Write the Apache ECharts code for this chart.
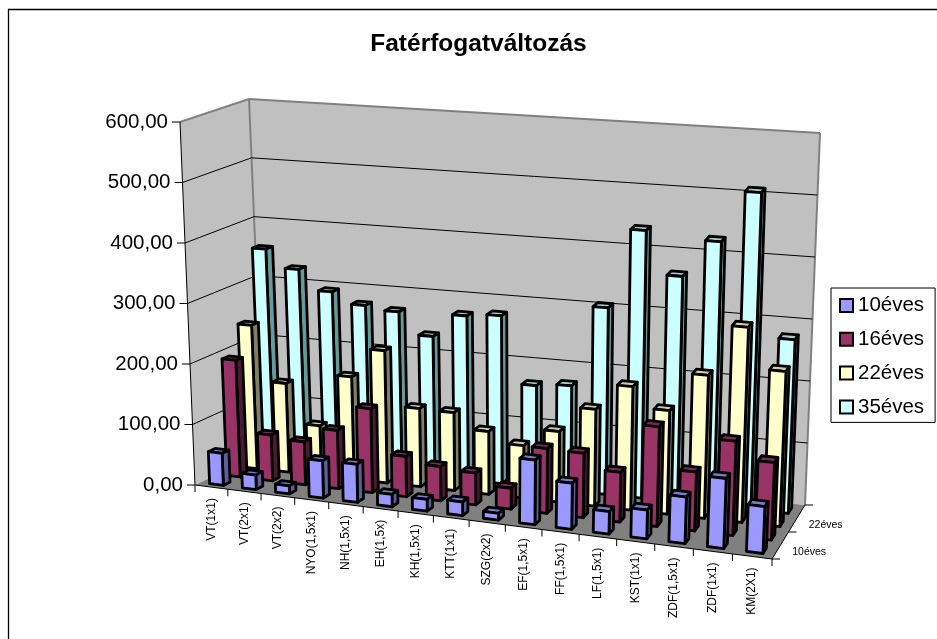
<!DOCTYPE html>
<html><head><meta charset="utf-8">
<style>html,body{margin:0;padding:0;background:#fff}#c{width:937px;height:639px}</style>
<script src="https://cdn.jsdelivr.net/npm/echarts@6/dist/echarts.min.js"></script>
</head><body><div id="c"></div>
<script>
const categories=['VT(1x1)','VT(2x1)','VT(2x2)','NYO(1,5x1)','NH(1,5x1)','EH(1,5x)','KH(1,5x1)','KTT(1x1)','SZG(2x2)','EF(1,5x1)','FF(1,5x1)','LF(1,5x1)','KST(1x1)','ZDF(1,5x1)','ZDF(1x1)','KM(2X1)'];
const values10=[53,24,13,61,62,20,19,22,11,104,74,36,46,74,111,74];
const values16=[194,76,71,96,138,66,56,52,34,105,104,80,160,94,150,123];
const values22=[240,148,83,170,219,129,128,103,86,115,157,200,167,230,313,248];
const values35=[356,326,293,275,269,233,272,277,167,172,305,436,366,427,511,279];
const seriesNames=['10éves','16éves','22éves','35éves'];
const yTicks=[0,100,200,300,400,500,600];
const yTickLabels=['0,00','100,00','200,00','300,00','400,00','500,00','600,00'];
const depthLabels=[['10éves',0.25],['22éves',0.75]];

// oblique projection of the 3D box: corners are front-left, front-right, back-right, back-left
const floorQ=[[195,485],[772,559],[805,505],[264,452]];
const topQ=[[180,122],[788,178],[820,133],[249,99]];
const warp=0.105;
function bil(q,u,d){
  const a=q[0],b=q[1],c=q[2],e=q[3];
  return [0,1].map(k=>(a[k]*(1-u)+b[k]*u)*(1-d)+(e[k]*(1-u)+c[k]*u)*d);
}
function P(uRaw,d,w){
  const u=uRaw/(1+warp*(1-uRaw));
  const a=bil(floorQ,u,d),b=bil(topQ,u,d);
  return [a[0]+(b[0]-a[0])*w,a[1]+(b[1]-a[1])*w];
}
function norm(params,api,cat,val){
  const c=api.coord([cat,val]),s=params.coordSys;
  return {u:(c[0]-s.x)/s.width,w:(s.y+s.height-c[1])/s.height};
}
const black='#000';
const FONT='"Liberation Sans",Arial,sans-serif';
const barDepth=0.1;
const faceColors=[['#9999FF','#5F5F9E','#7A7ACC'],['#993366','#4D1A33','#7A2952'],['#FFFFCC','#808066','#CCCCA3'],['#CCFFFF','#669999','#A3CCCC']];
function barSeries(idx,vals){
  const dc=(idx+0.5)/4,f=faceColors[idx];
  return {type:'custom',name:seriesNames[idx],z:10+(3-idx),silent:true,itemStyle:{color:f[0]},
    data:vals.map((v,i)=>[i,v]),
    renderItem(params,api){
      const n=norm(params,api,api.value(0),api.value(1));
      const hw=api.size([1,0])[0]/params.coordSys.width*0.21;
      const u0=n.u-hw,u1=n.u+hw,d0=dc-barDepth/2,d1=dc+barDepth/2,w=n.w;
      const poly=(pts,fill)=>({type:'polygon',shape:{points:pts},style:{fill,stroke:black,lineWidth:2.8,lineJoin:'round'}});
      return {type:'group',children:[
        poly([P(u0,d0,w),P(u1,d0,w),P(u1,d1,w),P(u0,d1,w)],f[2]),
        poly([P(u1,d0,0),P(u1,d1,0),P(u1,d1,w),P(u1,d0,w)],f[1]),
        poly([P(u0,d0,0),P(u1,d0,0),P(u1,d0,w),P(u0,d0,w)],f[0])
      ]};
    }};
}
const line=(a,b,color,lw)=>({type:'line',shape:{x1:a[0],y1:a[1],x2:b[0],y2:b[1]},style:{stroke:color,lineWidth:lw}});
const option={
  animation:false,backgroundColor:'#fff',
  textStyle:{fontFamily:FONT},
  title:{text:'Fatérfogatváltozás',left:473.5,top:27,textAlign:'center',textStyle:{fontSize:24.5,fontWeight:'bold',color:'#000',fontFamily:FONT}},
  grid:{left:0,right:0,top:0,bottom:0},
  xAxis:{type:'category',data:categories,show:false},
  yAxis:{type:'value',min:0,max:600,interval:100,show:false},
  legend:{orient:'vertical',left:831,top:288,padding:[7,11,5,8],itemGap:12.8,itemWidth:13,itemHeight:13,icon:'rect',
    borderColor:'#000',borderWidth:1,backgroundColor:'#fff',selectedMode:false,
    textStyle:{fontSize:20.5,color:'#000',fontFamily:FONT},
    data:seriesNames.map((n,i)=>({name:n,icon:'rect',itemStyle:{color:faceColors[i][0],borderColor:'#000',borderWidth:2}}))},
  graphic:[{type:'rect',silent:true,z:-1,shape:{x:8.5,y:9.5,width:940,height:640},style:{fill:'#fff',stroke:'#000',lineWidth:1.3}}],
  series:[
    {type:'custom',name:'walls',z:2,silent:true,data:[[0,0]],renderItem(){
      const fp=(a,fill)=>({type:'polygon',shape:{points:a},style:{fill}});
      const FL0=P(0,0,0),FL1=P(0,0,1),BL0=P(0,1,0),BL1=P(0,1,1),BR0=P(1,1,0),BR1=P(1,1,1),FR0=P(1,0,0);
      return {type:'group',children:[
        fp([FL0,FL1,BL1,BL0],'#C0C0C0'),fp([BL0,BL1,BR1,BR0],'#C0C0C0'),fp([FL0,FR0,BR0,BL0],'#808080'),
        line(FL1,BL1,'#808080',2),line(BL1,BR1,'#808080',2),line(BL1,BL0,'#808080',2),line(BR1,BR0,'#808080',2),
        line(FL0,FL1,black,1),line(FL0,FR0,black,1),line(FR0,BR0,black,1)
      ]};
    }},
    {type:'custom',name:'yTicks',z:3,silent:true,data:yTicks.map((v,i)=>[0,v,i]),renderItem(params,api){
      const n=norm(params,api,0,api.value(1)),w=n.w,lab=yTickLabels[api.value(2)];
      const a=P(0,0,w),b=P(0,1,w),c=P(1,1,w);
      const ch=[line([a[0]-8,a[1]],a,black,1),
        {type:'text',style:{text:lab,x:a[0]-12,y:a[1],align:'right',verticalAlign:'middle',fill:black,font:'20.5px '+FONT}}];
      if(api.value(1)>0&&api.value(1)<600){ch.push(line(a,b,black,1),line(b,c,black,1));}
      return {type:'group',children:ch};
    }},
    {type:'custom',name:'xTicks',z:3,silent:true,data:categories.map((c,i)=>[i,0]),renderItem(params,api){
      const i=api.value(0),n=norm(params,api,i,0),step=api.size([1,0])[0]/params.coordSys.width;
      const a=P(n.u-step/2,0,0),m=P(n.u,0,0),ch=[line(a,[a[0],a[1]+7],black,1),
        {type:'text',rotation:Math.PI/2,x:m[0],y:m[1]+11,style:{text:categories[i],x:0,y:0,align:'right',verticalAlign:'middle',fill:black,font:'12px '+FONT}}];
      if(i===categories.length-1){const e=P(1,0,0);ch.push(line(e,[e[0],e[1]+7],black,1));}
      return {type:'group',children:ch};
    }},
    {type:'custom',name:'depthTicks',z:3,silent:true,data:[[0,0,0],[0,0,0.5],[0,0,1]],renderItem(params,api){
      const a=P(1,api.value(2),0);
      return line(a,[a[0]+8,a[1]],black,1);
    }},
    {type:'custom',name:'depthLabels',z:3,silent:true,data:depthLabels.map((d,i)=>[0,0,i]),renderItem(params,api){
      const d=depthLabels[api.value(2)],a=P(1,d[1],0);
      return {type:'text',style:{text:d[0],x:a[0]+12,y:a[1]+7,align:'left',verticalAlign:'middle',fill:black,font:'10.5px '+FONT}};
    }},
    barSeries(3,values35),barSeries(2,values22),barSeries(1,values16),barSeries(0,values10)
  ]
};
echarts.init(document.getElementById('c')).setOption(option);
</script></body></html>
